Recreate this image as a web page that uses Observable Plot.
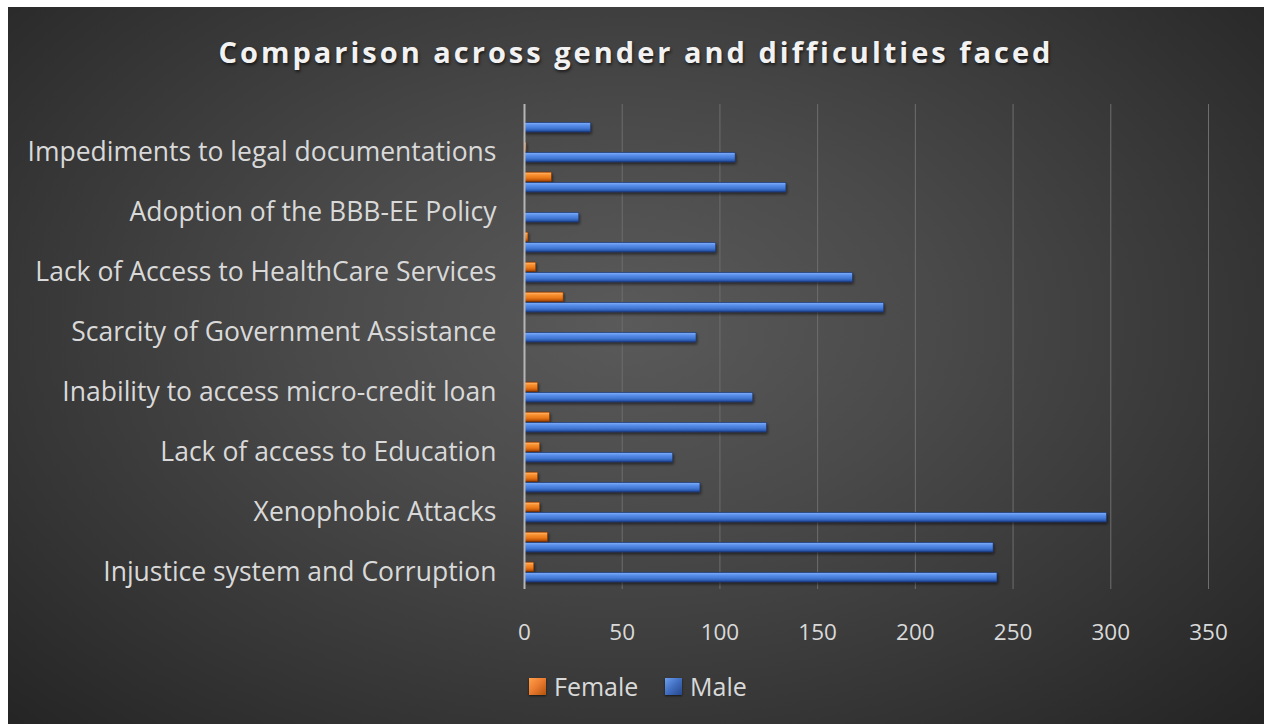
<!DOCTYPE html>
<html>
<head>
<meta charset="utf-8">
<script src="https://cdn.jsdelivr.net/npm/d3@7"></script>
<script src="https://cdn.jsdelivr.net/npm/@observablehq/plot@0.6"></script>
<style>
  html, body { margin: 0; padding: 0; background: #ffffff; width: 1264px; height: 724px; overflow: hidden; }
  #chart {
    position: absolute; left: 8px; top: 7px; width: 1256px; height: 717px;
    background: radial-gradient(ellipse 70% 80% at 49% 44%, #5a5a5a 0%, #4a4a4a 35%, #363636 70%, #242424 100%);
    font-family: "Open Sans", sans-serif; overflow: hidden;
  }
  #title {
    position: absolute; left: 0; width: 1256px; top: 25px; text-align: center; line-height: 40px;
    font-family: "Open Sans", sans-serif; font-weight: 700; font-size: 29px; letter-spacing: 3px;
    color: #f2f2f2; text-shadow: 1px 2px 3px rgba(0,0,0,0.6);
  }
  #plot { position: absolute; left: 0; top: 60px; }
  #legend {
    position: absolute; top: 664px; left: 0; width: 1256px; height: 30px;
    font-family: "Open Sans", sans-serif; font-size: 25px; color: #d9d9d9;
  }
  .item { position: absolute; top: 0; display: flex; align-items: center; height: 30px; }
  .sw { width: 17px; height: 17px; margin-right: 8px; box-shadow: 0 1px 2px rgba(0,0,0,0.6); }
</style>
</head>
<body>
<div id="chart">
  <div id="title">Comparison across gender and difficulties faced</div>
  <div id="plot"></div>
  <div id="legend"></div>
</div>
<script>
// Categories, top to bottom (Excel shows only every other label; hidden ones are blank)
const labels = [
  "",
  "Impediments to legal documentations",
  "",
  "Adoption of the BBB-EE Policy",
  "",
  "Lack of Access to HealthCare Services",
  "",
  "Scarcity of Government Assistance",
  "",
  "Inability to access micro-credit loan",
  "",
  "Lack of access to Education",
  "",
  "Xenophobic Attacks",
  "",
  "Injustice system and Corruption"
];
const female = [0, 1, 14, 0, 2, 6, 20, 0, 0, 7, 13, 8, 7, 8, 12, 5];
const male   = [34, 108, 134, 28, 98, 168, 184, 88, 0, 117, 124, 76, 90, 298, 240, 242];
const xTicks = [0, 50, 100, 150, 200, 250, 300, 350];
const seriesNames = ["Female", "Male"];

const data = labels.map((l, i) => ({idx: i, label: l, female: female[i], male: male[i]}));

const plot = Plot.plot({
  width: 1256,
  height: 582,
  marginLeft: 516,
  marginRight: 56,
  marginTop: 37,
  marginBottom: 60,
  style: {background: "transparent", color: "#d9d9d9", fontFamily: "Open Sans, sans-serif", overflow: "visible"},
  x: {domain: [0, 350]},
  y: {domain: d3.range(labels.length), padding: 0},
  marks: [
    Plot.gridX(xTicks.slice(1), {stroke: "#6e6e6e", strokeOpacity: 1, strokeWidth: 1}),
    Plot.barX(data, {x: "female", y: "idx", insetTop: 5, insetBottom: 15.3, fill: "url(#gradF)", stroke: "#7a3200", strokeWidth: 0.5}),
    Plot.barX(data, {x: "male", y: "idx", insetTop: 15.3, insetBottom: 5, fill: "url(#gradM)", stroke: "#1a3570", strokeWidth: 0.5}),
    Plot.ruleX([0], {stroke: "#b5b5b5", strokeWidth: 2}),
    Plot.axisY({anchor: "left", tickSize: 0, tickPadding: 28, fontSize: 26.5, tickFormat: i => labels[i], label: null, fill: "#d9d9d9"}),
    Plot.axisX({ticks: xTicks, tickSize: 0, tickPadding: 35, fontSize: 22.5, label: null, fill: "#d9d9d9"})
  ]
});
document.getElementById("plot").appendChild(plot);

// gradients and shadow
const svg = d3.select(plot);
const defs = svg.insert("defs", ":first-child");
function grad(id, stops) {
  const g = defs.append("linearGradient").attr("id", id).attr("x1", 0).attr("y1", 0).attr("x2", 0).attr("y2", 1);
  stops.forEach(([o, c]) => g.append("stop").attr("offset", o).attr("stop-color", c));
}
grad("gradM", [[0, "#3764b5"], [0.12, "#74a4f5"], [0.3, "#5a8fea"], [0.6, "#4379d6"], [0.82, "#2f5eb4"], [1, "#1d3c80"]]);
grad("gradF", [[0, "#c45a0c"], [0.12, "#ffae62"], [0.3, "#f8902f"], [0.6, "#ea781b"], [0.82, "#c65b0b"], [1, "#8a3805"]]);
const f = defs.append("filter").attr("id", "shadow").attr("x", "-5%").attr("y", "-50%").attr("width", "110%").attr("height", "200%");
f.append("feDropShadow").attr("dx", 1).attr("dy", 2).attr("stdDeviation", 1.5).attr("flood-color", "#000").attr("flood-opacity", 0.55);
svg.selectAll("g[aria-label='bar']").attr("filter", "url(#shadow)");

// legend
const colorsLegend = {Female: "linear-gradient(135deg, #ffa04a 0%, #ed7d31 45%, #b3530c 100%)", Male: "linear-gradient(135deg, #6e9ff0 0%, #4472c4 45%, #26468c 100%)"};
const legendX = {Female: 521, Male: 657};
const lg = d3.select("#legend");
seriesNames.forEach(n => {
  const it = lg.append("div").attr("class", "item").style("left", legendX[n] + "px");
  it.append("div").attr("class", "sw").style("background", colorsLegend[n]);
  it.append("span").text(n);
});
</script>
</body>
</html>
